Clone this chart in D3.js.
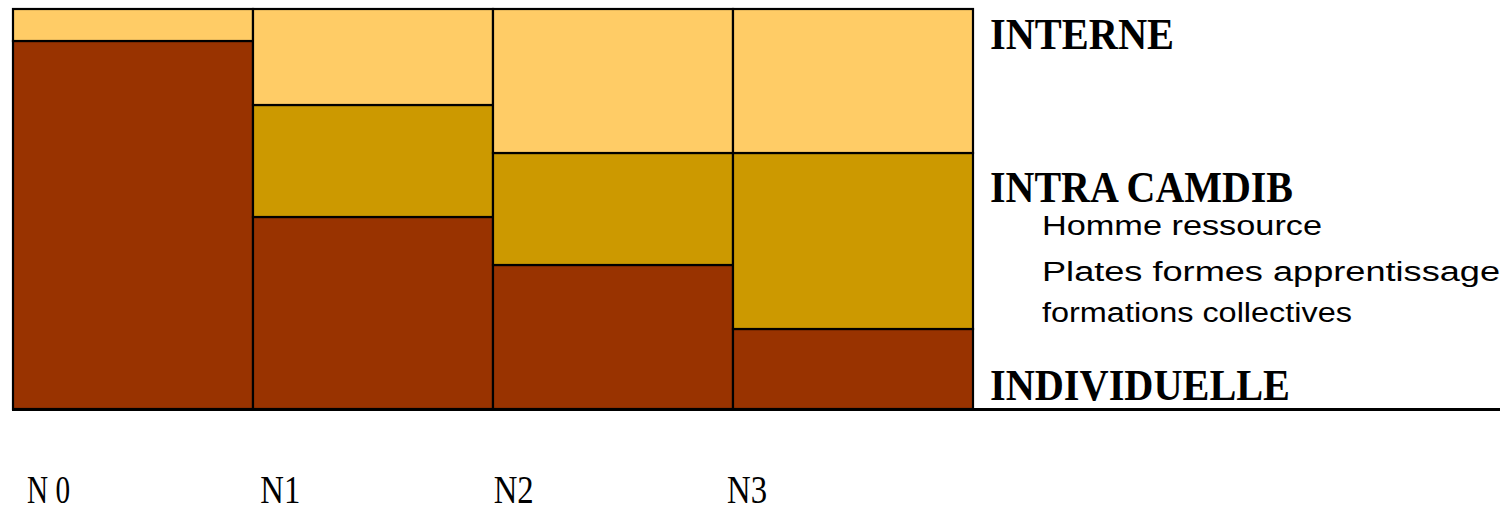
<!DOCTYPE html>
<html>
<head>
<meta charset="utf-8">
<script src="https://cdn.jsdelivr.net/npm/d3@7"></script>
<style>
  html, body { margin: 0; padding: 0; background: #fff; }
  svg { display: block; }
</style>
</head>
<body>
<svg id="chart" width="1509" height="512"></svg>
<script>
// Share of each training type per level (percent of column)
const categories = ["N 0", "N1", "N2", "N3"];
const individuelle = [92, 48, 36, 20];
const intraCamdib = [0, 28, 28, 44];
const interne = [8, 24, 36, 36];

const seriesNames = ["INDIVIDUELLE", "INTRA CAMDIB", "INTERNE"];
const seriesColors = ["#993300", "#CC9900", "#FFCC66"];
const intraDetails = ["Homme ressource", "Plates formes apprentissage", "formations collectives"];

const rows = categories.map((c, i) => ({
  cat: c,
  "INDIVIDUELLE": individuelle[i],
  "INTRA CAMDIB": intraCamdib[i],
  "INTERNE": interne[i]
}));

const svg = d3.select("#chart");

const x = d3.scaleBand().domain(categories).range([13, 973]).paddingInner(0).paddingOuter(0);
const y = d3.scaleLinear().domain([0, 100]).range([409, 9]);
const color = d3.scaleOrdinal().domain(seriesNames).range(seriesColors);

const stacked = d3.stack().keys(seriesNames)(rows);

const layers = svg.append("g")
  .selectAll("g")
  .data(stacked)
  .join("g")
  .attr("fill", d => color(d.key));

layers.selectAll("rect")
  .data(d => d.filter(s => s[1] - s[0] > 0))
  .join("rect")
  .attr("x", d => x(d.data.cat))
  .attr("width", x.bandwidth())
  .attr("y", d => y(d[1]))
  .attr("height", d => y(d[0]) - y(d[1]))
  .attr("stroke", "#000")
  .attr("stroke-width", 2.2);

// baseline running under the chart and the legend
svg.append("line")
  .attr("x1", 12).attr("x2", 1500)
  .attr("y1", y(0) + 0.5).attr("y2", y(0) + 0.5)
  .attr("stroke", "#000").attr("stroke-width", 3);

// series labels on the right
const serif = "'Liberation Serif', 'Times New Roman', serif";
const sans = "'Liberation Sans', Arial, sans-serif";

const seriesLabels = [
  { text: "INTERNE", y: 49, len: 184 },
  { text: "INTRA CAMDIB", y: 202, len: 303 },
  { text: "INDIVIDUELLE", y: 400, len: 300 }
];
svg.append("g")
  .selectAll("text")
  .data(seriesLabels)
  .join("text")
  .attr("x", 990)
  .attr("y", d => d.y)
  .attr("font-family", serif)
  .attr("font-weight", "bold")
  .attr("font-size", 44)
  .attr("textLength", d => d.len)
  .attr("lengthAdjust", "spacingAndGlyphs")
  .attr("fill", "#000")
  .text(d => d.text);

const detailY = [235, 281, 322];
const detailLen = [280, 458, 310];
svg.append("g")
  .selectAll("text")
  .data(intraDetails)
  .join("text")
  .attr("x", 1042)
  .attr("y", (d, i) => detailY[i])
  .attr("font-family", sans)
  .attr("font-size", 27)
  .attr("textLength", (d, i) => detailLen[i])
  .attr("lengthAdjust", "spacingAndGlyphs")
  .attr("fill", "#000")
  .text(d => d);

// level labels along the bottom
const xl = d3.scalePoint().domain(categories).range([27, 727]);
svg.append("g")
  .selectAll("text")
  .data(categories)
  .join("text")
  .attr("x", d => xl(d))
  .attr("y", 503)
  .attr("font-family", serif)
  .attr("font-size", 40)
  .attr("textLength", d => d === "N 0" ? 43 : 40)
  .attr("lengthAdjust", "spacingAndGlyphs")
  .attr("fill", "#000")
  .text(d => d);
</script>
</body>
</html>
